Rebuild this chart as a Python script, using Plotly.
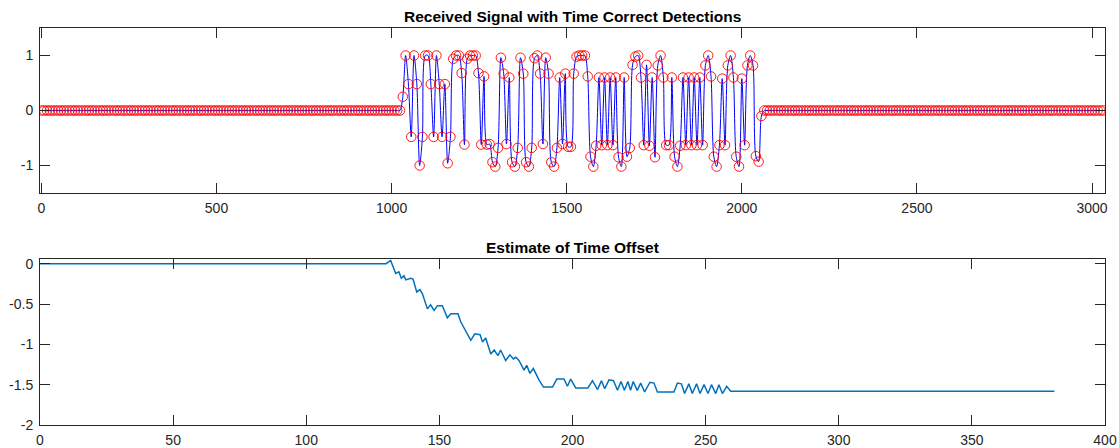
import plotly.graph_objects as go

# ---------------- data ----------------
SPS = 8  # sample spacing between symbol detections

lead_zeros = [0.0] * 129
burst_a = [0.25, 1.0, 0.48, -0.48, 1.0, 0.48, -1.0, -0.48, 1.0, 1.0, 0.48, -0.48, 1.0, 0.48,
           -0.48, 0.48, -0.96, -0.48, 0.94, 1.0, 1.0, 0.68, -0.62, 0.94, 1.0, 1.0, 1.0, 0.68,
           -0.62, 0.62, -0.62]
burst_b = [-0.61, -0.94, -1.02, -0.68, 0.96, 0.67, -0.61, 0.6, -0.94, -1.02, -0.68, 0.96, 0.67,
           -0.94, -1.02, -0.68, 0.95, 1.0, 0.67, -0.61, 0.96, 0.67, -0.94, -1.02, -0.68, 0.6,
           -0.61, 0.67, -0.66, -0.66, 0.67, 0.98]
burst_c = [1.0, 1.0, 1.0, 0.62, -0.84, -1.02, -0.64, 0.6, -0.63, 0.6, -0.63, 0.6, -0.63, 0.6,
           -0.85, -1.02, 0.6, -0.84, -0.68, 0.83, 0.98, 1.0, 0.6, -0.63, 0.83, -0.64, 0.6, -0.85,
           0.82, 1.0, 0.6, -0.63]
burst_d = [-0.63, 0.6, -0.84, -1.02, -0.64, 0.6, -0.63, 0.6, -0.63, 0.6, -0.63, 0.6, -0.63, 0.82,
           1.0, 0.62, -0.84, -1.02, -0.63, 0.58, -0.63, 0.82, 1.0, 0.6, -0.84, -1.02, 0.58, -0.63,
           0.82, 1.0, 0.82, -0.83, -0.93, -0.1]
trail_zeros = [0.0] * 122

detections = lead_zeros + burst_a + burst_b + burst_c + burst_d + trail_zeros
sample_index = [SPS * i for i in range(len(detections))]

offset_symbol = [0, 128, 130, 131.7, 133.6, 134.8, 135.7, 136.7, 137.4, 139.2, 140.1, 141.5, 142.7,
                 143.6, 145.5, 146.7, 148, 149.3, 151.1, 153, 154.3, 157, 158, 161.8, 163.3, 165.3,
                 166.2, 167.4, 169.3, 170.6, 172, 173, 174.9, 176.5, 177.8, 178.7, 179.9, 181.8,
                 182.8, 184, 185.3, 187.4, 189.1, 192.5, 194.1, 196.8, 198.1, 199.3, 201.2, 205.8,
                 207.5, 209.4, 210.9, 212.1, 213.7, 215.4, 216.9, 218.2, 219.5, 220.8, 221.8, 222.8,
                 224.3, 225.6, 227.1, 229.1, 230.6, 231.9, 238.1, 239.4, 240.9, 242.1, 243.7, 245,
                 246.6, 247.9, 249.4, 250.9, 252.2, 253.8, 255, 256.3, 257.9, 259.4, 381]
offset_value = [0, 0, 0.0, 0.04, -0.12, -0.1, -0.18, -0.15, -0.2, -0.18, -0.19, -0.35, -0.32,
                -0.37, -0.56, -0.51, -0.58, -0.52, -0.52, -0.67, -0.62, -0.62, -0.72, -0.95, -0.87,
                -0.88, -0.97, -0.92, -1.12, -1.07, -1.14, -1.07, -1.2, -1.13, -1.18, -1.16, -1.2,
                -1.32, -1.26, -1.36, -1.3, -1.44, -1.53, -1.53, -1.43, -1.43, -1.52, -1.43, -1.54,
                -1.54, -1.45, -1.56, -1.45, -1.55, -1.44, -1.45, -1.57, -1.46, -1.57, -1.46, -1.57,
                -1.46, -1.57, -1.48, -1.59, -1.47, -1.48, -1.59, -1.59, -1.48, -1.49, -1.61, -1.49,
                -1.61, -1.49, -1.61, -1.5, -1.61, -1.5, -1.61, -1.5, -1.61, -1.52, -1.58, -1.58]

top_xticks = [0, 500, 1000, 1500, 2000, 2500, 3000]
top_xticklabels = ["0", "500", "1000", "1500", "2000", "2500", "3000"]
top_yticks = [-1, 0, 1]
top_yticklabels = ["-1", "0", "1"]
bot_xticks = [0, 50, 100, 150, 200, 250, 300, 350, 400]
bot_xticklabels = ["0", "50", "100", "150", "200", "250", "300", "350", "400"]
bot_yticks = [-2, -1.5, -1, -0.5, 0]
bot_yticklabels = ["-2", "-1.5", "-1", "-0.5", "0"]

title_top = "Received Signal with Time Correct Detections"
title_bot = "Estimate of Time Offset"

# ---------------- figure ----------------
AX = "#262626"
FONT = "Liberation Sans, Arial, Helvetica, sans-serif"

fig = go.Figure()
fig.add_trace(go.Scatter(x=sample_index, y=detections, mode="lines",
                         line=dict(color="#0000FF", width=1, shape="spline", smoothing=0.8),
                         xaxis="x", yaxis="y", showlegend=False, hoverinfo="skip"))
fig.add_trace(go.Scatter(x=sample_index, y=detections, mode="markers",
                         marker=dict(symbol="circle-open", size=9.5, color="#FF0000",
                                     line=dict(width=0.9, color="#FF0000")),
                         xaxis="x", yaxis="y", showlegend=False))
fig.add_trace(go.Scatter(x=offset_symbol, y=offset_value, mode="lines",
                         line=dict(color="#0072BD", width=1.5),
                         xaxis="x2", yaxis="y2", showlegend=False))

axis_common = dict(showline=True, linecolor=AX, linewidth=1, mirror="ticks",
                   ticks="inside", ticklen=10, tickcolor=AX, tickwidth=1,
                   showgrid=False, zeroline=False, automargin=False,
                   tickfont=dict(family=FONT, size=14, color=AX))

fig.update_layout(
    width=1119, height=448,
    margin=dict(l=40, r=14, t=28, b=23),
    paper_bgcolor="white", plot_bgcolor="white",
    font=dict(family=FONT, color=AX),
    xaxis=dict(domain=[0, 1], range=[-4, 3037], tickvals=top_xticks, ticktext=top_xticklabels,
               anchor="y", ticklabelstandoff=2, **axis_common),
    yaxis=dict(domain=[0.5844, 1], range=[-1.5, 1.5], tickvals=top_yticks,
               ticktext=top_yticklabels, anchor="x", ticklabelstandoff=3, **axis_common),
    xaxis2=dict(domain=[0, 1], range=[0, 400], tickvals=bot_xticks, ticktext=bot_xticklabels,
                anchor="y2", ticklabelstandoff=2, **axis_common),
    yaxis2=dict(domain=[0, 0.4174], range=[-2, 0.055], tickvals=bot_yticks,
                ticktext=bot_yticklabels, anchor="x2", ticklabelstandoff=3, **axis_common),
    annotations=[
        dict(text="<b>%s</b>" % title_top, x=0.5, y=1, xref="paper", yref="paper",
             xanchor="center", yanchor="bottom", yshift=1, showarrow=False,
             font=dict(family=FONT, size=15.5, color="#000000")),
        dict(text="<b>%s</b>" % title_bot, x=0.5, y=0.4174, xref="paper", yref="paper",
             xanchor="center", yanchor="bottom", yshift=1, showarrow=False,
             font=dict(family=FONT, size=15.5, color="#000000")),
    ],
)

fig.write_html("out.html", config={"displayModeBar": False},
               post_script="document.body.style.margin='0';")
